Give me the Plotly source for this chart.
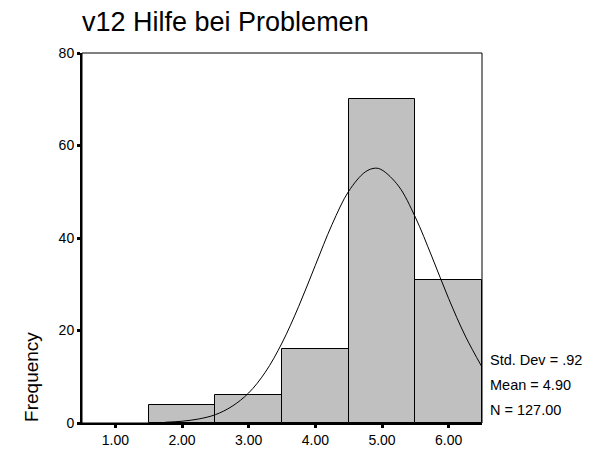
import plotly.graph_objects as go

# histogram of v12 (bin centres, counts)
bins = [2.0, 3.0, 4.0, 5.0, 6.0]
counts = [4, 6, 16, 70, 31]

# normal curve
curve_x = [1.75, 2.0, 2.25, 2.5, 2.75, 3.0, 3.25, 3.5, 3.75, 4.0, 4.25, 4.5,
           4.75, 4.9, 5.0, 5.25, 5.5, 5.75, 6.0, 6.25, 6.5]
curve_y = [0.16, 0.38, 0.87, 1.8, 3.6, 6.5, 11.0, 17.3, 25.2, 34.1, 42.9, 50.1,
           54.3, 55.1, 54.7, 51.2, 44.5, 35.9, 26.9, 18.8, 12.1]

x_ticks = [1, 2, 3, 4, 5, 6]
y_ticks = [0, 20, 40, 60, 80]
stats = ["Std. Dev = .92", "Mean = 4.90", "N = 127.00"]

FONT = "Liberation Sans, Arial, sans-serif"

fig = go.Figure()

fig.add_trace(go.Bar(
    x=bins, y=counts, width=1,
    marker=dict(color="#c0c0c0", line=dict(color="black", width=1)),
    showlegend=False,
))

fig.add_trace(go.Scatter(
    x=curve_x, y=curve_y, mode="lines",
    line=dict(color="black", width=1, shape="spline"),
    showlegend=False,
))

# stats block to the right of the plot
for txt, yy in zip(stats, [0.170, 0.103, 0.035]):
    fig.add_annotation(
        text=txt, xref="paper", yref="paper", x=1.015, y=yy,
        xanchor="left", yanchor="middle", showarrow=False,
        font=dict(size=14.5, color="black", family=FONT),
    )

fig.add_annotation(
    text="Frequency", xref="paper", yref="paper", x=-0.128, y=0.124,
    xanchor="center", yanchor="middle", textangle=-90, showarrow=False,
    font=dict(size=19, color="black", family=FONT),
)

# thin frame around the plot area
fig.add_shape(type="rect", xref="paper", yref="paper", x0=0, y0=0, x1=1, y1=1,
              line=dict(color="black", width=1), layer="above")

fig.update_layout(
    width=595, height=451,
    margin=dict(l=82, r=113, t=53, b=28, autoexpand=False),
    paper_bgcolor="white", plot_bgcolor="white",
    font=dict(family=FONT, color="black"),
    bargap=0,
    title=dict(
        text="v12 Hilfe bei Problemen",
        font=dict(size=27, color="black", family=FONT),
        xref="paper", x=0, xanchor="left",
        yref="container", y=0.953, yanchor="middle",
    ),
)

fig.update_xaxes(
    range=[0.5, 6.5], tickvals=x_ticks, tickformat=".2f",
    ticks="outside", ticklen=3, tickwidth=3, tickcolor="black",
    showline=True, linecolor="black", linewidth=2,
    showgrid=False, zeroline=False, automargin=False,
    tickfont=dict(size=14, color="black", family=FONT),
)
fig.update_yaxes(
    range=[0, 80], tickvals=y_ticks,
    ticks="outside", ticklen=3, tickwidth=3, tickcolor="black",
    showline=True, linecolor="black", linewidth=2,
    showgrid=False, zeroline=False, automargin=False,
    tickfont=dict(size=14, color="black", family=FONT),
)

# drop the default 8px page margin so the figure starts at the window corner
fig.write_html("out.html", config={"displayModeBar": False},
               post_script="document.body.style.margin='0';")
